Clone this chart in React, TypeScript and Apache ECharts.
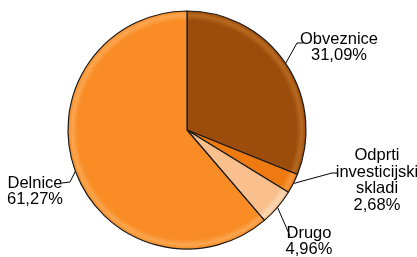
import React, { useEffect, useRef } from "react";
import * as echarts from "echarts";

const categories = ["Obveznice", "Odprti\ninvesticijski\nskladi", "Drugo", "Delnice"];
const values = [31.09, 2.68, 4.96, 61.27];
const valueLabels = ["31,09%", "2,68%", "4,96%", "61,27%"];
const colors = ["#9C4D0C", "#F07A12", "#F9C08E", "#F98C25"];
const rims = ["#B8691F", "#F79A3E", "#FCD8B4", "#FBA650"];

const CX = 187;
const CY = 130;
const R = 119;

// label placement: [x, y, align, line mid x, mid y, end x, end y]
const labelPlace: [number, number, string, number, number, number, number][] = [
  [339, 46, "center", 297, 43, 303, 43],
  [377, 179, "center", 332, 173, 338, 173],
  [309, 240, "center", 290, 236, 290, 236],
  [35, 190, "center", 70, 182, 62, 183],
];

export default function App() {
  const ref = useRef<HTMLDivElement>(null);
  useEffect(() => {
    if (!ref.current) return;
    const chart = echarts.init(ref.current, undefined, { renderer: "svg" });
    const data = values.map((v, i) => ({
      name: categories[i],
      value: v,
      itemStyle: {
        color: {
          type: "radial",
          x: CX,
          y: CY,
          r: R,
          global: true,
          colorStops: [
            { offset: 0, color: colors[i] },
            { offset: 0.92, color: colors[i] },
            { offset: 0.965, color: rims[i] },
            { offset: 1, color: colors[i] },
          ],
        },
      },
    }));
    chart.setOption({
      animation: false,
      series: [
        {
          type: "pie",
          center: [CX, CY],
          radius: [0, R],
          startAngle: 90,
          clockwise: true,
          data,
          itemStyle: { borderColor: "#1a1a1a", borderWidth: 1.2 },
          label: {
            show: true,
            formatter: (p: any) => `${p.name}\n${valueLabels[p.dataIndex]}`,
            fontFamily: "Liberation Sans, Arial, sans-serif",
            fontSize: 16.5,
            lineHeight: 16.5,
            color: "#000",
            overflow: "none",
          },
          labelLine: {
            show: true,
            length: 10,
            length2: 8,
            lineStyle: { color: "#000", width: 1 },
          },
          labelLayout: (params: any) => {
            const lp = labelPlace[params.dataIndex];
            const start = params.labelLinePoints ? params.labelLinePoints[0] : [lp[3], lp[4]];
            return {
              x: lp[0],
              y: lp[1],
              align: lp[2],
              verticalAlign: "middle",
              labelLinePoints: [start, [lp[3], lp[4]], [lp[5], lp[6]]],
            };
          },
        },
      ],
    });
    return () => chart.dispose();
  }, []);
  return (
    <div
      ref={ref}
      style={{ position: "fixed", left: 0, top: 0, width: 417, height: 257 }}
    />
  );
}
